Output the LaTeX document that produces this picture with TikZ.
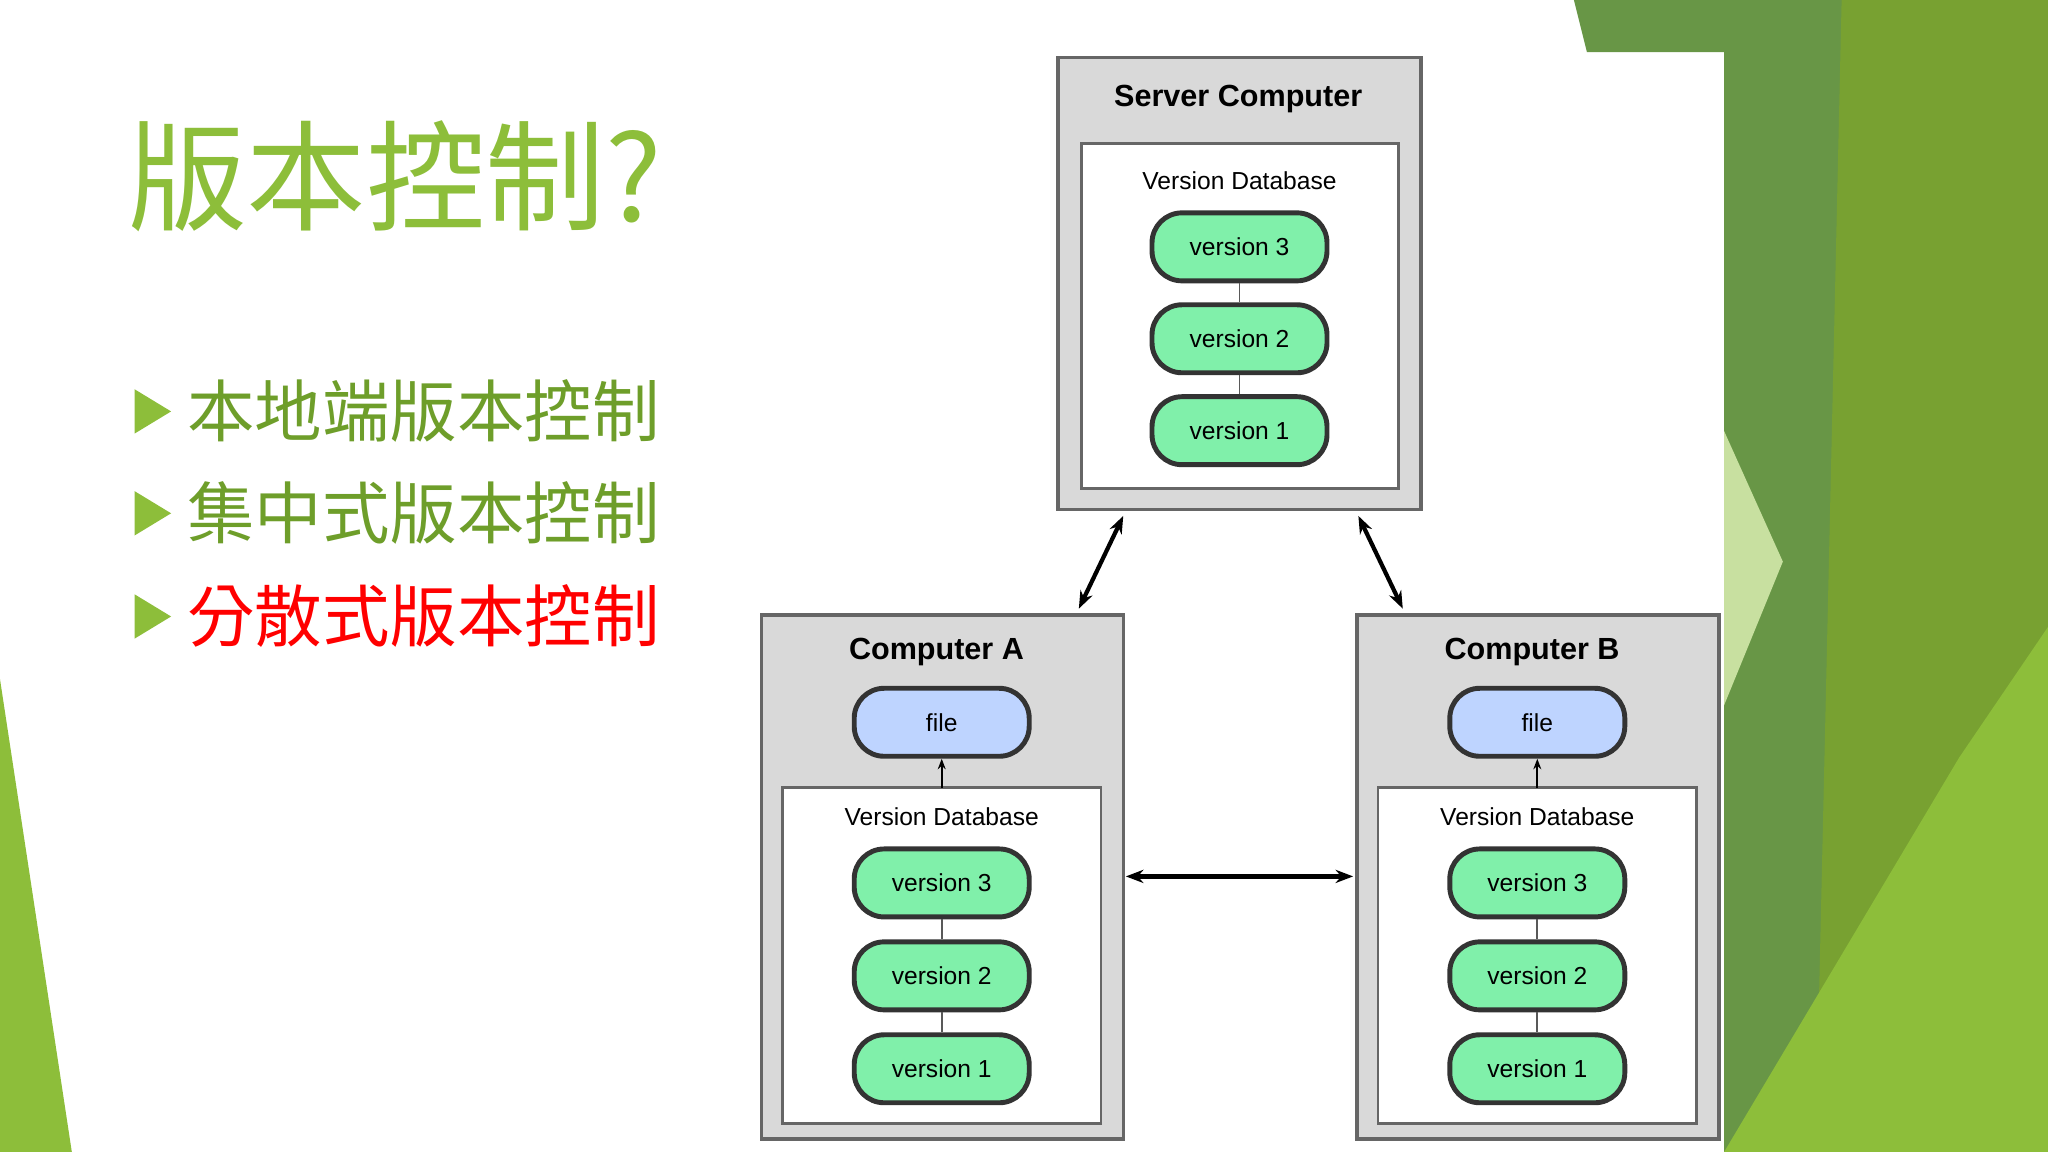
\documentclass[tikz,border=0pt]{standalone}
\usepackage{fontspec}
\setmainfont{Liberation Sans}
\newfontfamily\cjk{Noto Sans CJK TC}
\newfontfamily\cjklight{Noto Sans CJK TC Light}
\usetikzlibrary{positioning,arrows.meta}
\definecolor{leafgreen}{RGB}{141,190,58}
\definecolor{olivegreen}{RGB}{110,158,42}
\definecolor{darkleaf}{RGB}{104,150,70}
\definecolor{paleleaf}{RGB}{200,224,160}
\definecolor{mint}{RGB}{128,240,170}
\definecolor{skyfile}{RGB}{190,212,255}
\definecolor{boxgray}{RGB}{217,217,217}
\tikzset{
  machine/.style={draw=gray!80!black, fill=boxgray, line width=1pt},
  store/.style={draw=gray!80!black, fill=white, line width=0.8pt},
  pill/.style={draw=black!80, fill=mint, line width=1.4pt, rounded corners=0.3cm,
    minimum width=1.75cm, minimum height=0.68cm, font=\fontsize{7}{8}\selectfont},
  filepill/.style={pill, fill=skyfile},
  link/.style={draw=gray!70!black, line width=0.5pt},
  sync/.style={{Stealth[length=5pt]}-{Stealth[length=5pt]}, line width=1.2pt},
  fetch/.style={-{Stealth[length=3pt]}, line width=0.6pt},
  heading/.style={font=\bfseries\fontsize{8.7}{10}\selectfont},
  dbname/.style={font=\fontsize{7}{8}\selectfont}
}
\begin{document}
\begin{tikzpicture}[x=0.01306cm, y=-0.01306cm]
\useasboundingbox (0,0) rectangle (1568,882);

		% background leaves
		\fill[darkleaf] (1205,0) -- (1568,0) -- (1568,882) -- (1320,882) -- (1320,40) -- (1215,40) -- cycle;
		\fill[leafgreen!85!black] (1410,0) -- (1568,0) -- (1568,882) -- (1390,882) -- cycle;
		\fill[paleleaf] (1320,330) -- (1365,430) -- (1320,540) -- cycle;
		\fill[leafgreen] (1320,882) -- (1500,580) -- (1568,480) -- (1568,882) -- cycle;
		\fill[leafgreen] (0,520) -- (55,882) -- (0,882) -- cycle;

		% title and bullets
		\node[anchor=west, text=leafgreen, font=\cjk\fontsize{34}{38}\selectfont] (title) at (88,135) {版本控制?};
		\foreach \yy/\txt/\col in {315/本地端版本控制/olivegreen, 393/集中式版本控制/olivegreen, 472/分散式版本控制/red} {
		  \fill[leafgreen] (103,\yy-17) -- (131,\yy) -- (103,\yy+17) -- cycle;
		  \node[anchor=west, text=\col, font=\cjk\fontsize{19.2}{22}\selectfont] at (134,\yy) {\txt};
		}

		% server computer
		\draw[machine] (810,44) rectangle (1088,390);
		\draw[store] (828,110) rectangle (1071,374);
		\node[heading] (srvname) at (948,76) {Server Computer};
		\node[dbname] (srvdb) at (949,138) {Version Database};
		\node[pill] (srv3) at (949,189) {version 3};
		\node[pill, below=0.19cm of srv3] (srv2) {version 2};
		\node[pill, below=0.19cm of srv2] (srv1) {version 1};
		\draw[link] (srv3) -- (srv2) (srv2) -- (srv1);
		\coordinate (srvA) at (860,395);
		\coordinate (srvB) at (1040,395);

		% client computers
		\foreach \cx/\nm/\lbl in {721/a/A, 1177/b/B} {
		  \draw[machine] (\cx-138,471) rectangle (\cx+139,872);
		  \draw[store] (\cx-122,603) rectangle (\cx+122,860);
		  \node[heading] at (\cx-4,499) {Computer \lbl};
		  \node[filepill] (file\nm) at (\cx,553) {file};
		  \node[dbname] at (\cx,625) {Version Database};
		  \node[pill] (\nm3) at (\cx,676) {version 3};
		  \node[pill, below=0.2cm of \nm3] (\nm2) {version 2};
		  \node[pill, below=0.2cm of \nm2] (\nm1) {version 1};
		  \draw[link] (\nm3) -- (\nm2) (\nm2) -- (\nm1);
		  \coordinate (db\nm) at (\cx,603);
		  \draw[fetch] (db\nm) -- (file\nm);
		}

		% sync arrows
		\coordinate (topA) at (826,466);
		\coordinate (topB) at (1074,466);
		\coordinate (sideA) at (862,671);
		\coordinate (sideB) at (1036,671);
		\draw[sync] (srvA) -- (topA);
		\draw[sync] (srvB) -- (topB);
		\draw[sync] (sideA) -- (sideB);

\end{tikzpicture}
\end{document}
